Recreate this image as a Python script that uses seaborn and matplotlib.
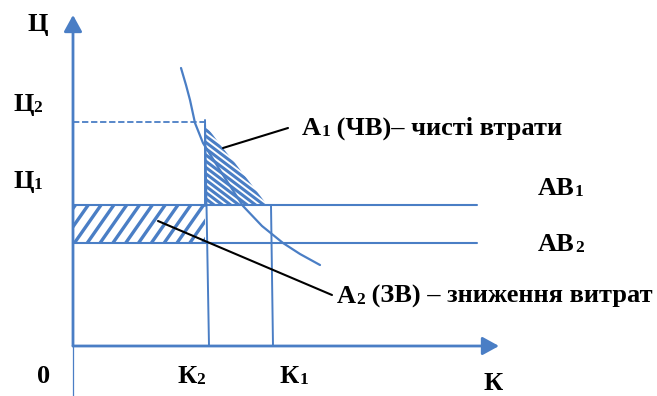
import numpy as np
import pandas as pd
import matplotlib
matplotlib.use("Agg")
import matplotlib.pyplot as plt
import matplotlib.transforms as mtransforms
from matplotlib.patches import Polygon
import seaborn as sns

# ---------------- data (diagram coordinates, y grows downward) ----------------
ORIGIN = (73, 346)
Y_AXIS_TOP = 15
X_AXIS_RIGHT = 499
BOTTOM_EDGE = 396

P_AB1 = 205          # price level AB1 (Ц1)
P_AB2 = 243          # price level AB2
P_2 = 122            # price Ц2
LINE_END_X = 477     # right end of AB lines

K2_top = (205, 120)
K2_bottom = (209, 346)
K1_top = (271, 205)
K1_bottom = (273, 346)

demand_x = [181, 186, 190, 195, 203, 223, 243, 262, 283, 300, 320]
demand_y = [68, 85, 100, 123, 143, 175, 206, 226, 243, 254, 265]

a1_x = [205, 205, 213, 222, 235, 248, 258, 268]
a1_y = [206, 125, 135, 147, 163, 180, 193, 206]

a2_x = [73, 205, 205, 73]
a2_y = [205, 205, 243, 243]

lead1_x = [223, 288]
lead1_y = [148, 128]
lead2_x = [158, 332]
lead2_y = [221, 295]

BLUE = "#4A7EC5"

sns.set_theme(style="white")
plt.rcParams["font.family"] = ["Liberation Serif", "DejaVu Serif"]

fig = plt.figure(figsize=(6.57, 3.96), dpi=100)
ax = fig.add_axes([0, 0, 1, 1])
ax.set_xlim(0, 657)
ax.set_ylim(396, 0)
ax.axis("off")

# ---------------- hatched areas ----------------
def stripes(poly_x, poly_y, angle_deg, spacing, lw, color):
    poly = Polygon(np.column_stack([poly_x, poly_y]), closed=True,
                   facecolor="none", edgecolor="none")
    ax.add_patch(poly)
    xmin, xmax = min(poly_x) - 5, max(poly_x) + 5
    ymin, ymax = min(poly_y) - 5, max(poly_y) + 5
    t = np.deg2rad(angle_deg)
    d = np.array([np.cos(t), np.sin(t)])
    n = np.array([-d[1], d[0]])
    cx, cy = (xmin + xmax) / 2, (ymin + ymax) / 2
    R = np.hypot(xmax - xmin, ymax - ymin)
    k = int(R / spacing) + 2
    for i in range(-k, k + 1):
        p = np.array([cx, cy]) + n * i * spacing
        a = p - d * R
        b = p + d * R
        ln, = ax.plot([a[0], b[0]], [a[1], b[1]], color=color, lw=lw,
                      solid_capstyle="butt")
        ln.set_clip_path(poly)

stripes(a1_x, a1_y, 37, 5.0, 2.2, BLUE)     # "\\" fine hatch
stripes(a2_x, a2_y, -55, 10.5, 2.4, BLUE)   # "/" coarse hatch

# ---------------- lines ----------------
ax.plot([ORIGIN[0], LINE_END_X], [P_AB1, P_AB1], color=BLUE, lw=1.5)
ax.plot([ORIGIN[0], LINE_END_X], [P_AB2, P_AB2], color=BLUE, lw=1.5)
ax.plot([ORIGIN[0], K2_top[0]], [P_2, P_2], color=BLUE, lw=1.3,
        dashes=(3.5, 1.5))
ax.plot([K2_top[0], K2_bottom[0]], [K2_top[1], K2_bottom[1]], color=BLUE, lw=1.4)
ax.plot([K1_top[0], K1_bottom[0]], [K1_top[1], K1_bottom[1]], color=BLUE, lw=1.4)
ax.plot([a1_x[0], a1_x[1]], [a1_y[0], a1_y[1]], color=BLUE, lw=1.4)

sns.lineplot(x=demand_x, y=demand_y, sort=False, ax=ax, color=BLUE, lw=1.6,
             estimator=None)

ax.plot([ORIGIN[0], ORIGIN[0]], [ORIGIN[1], BOTTOM_EDGE], color=BLUE, lw=0.9)
ax.annotate("", xy=(ORIGIN[0], Y_AXIS_TOP), xytext=ORIGIN,
            arrowprops=dict(arrowstyle="-|>,head_length=1.0,head_width=0.55",
                            mutation_scale=10, lw=2.0, color=BLUE,
                            shrinkA=0, shrinkB=0))
ax.annotate("", xy=(X_AXIS_RIGHT, ORIGIN[1]), xytext=ORIGIN,
            arrowprops=dict(arrowstyle="-|>,head_length=1.0,head_width=0.55",
                            mutation_scale=10, lw=2.0, color=BLUE,
                            shrinkA=0, shrinkB=0))

ax.plot(lead1_x, lead1_y, color="black", lw=1.5)
ax.plot(lead2_x, lead2_y, color="black", lw=1.5)

# ---------------- text ----------------
renderer = fig.canvas.get_renderer()
MAIN = 19
SUB = 12.5

def rich(x, y, parts):
    offset = 0.0
    for s, size, dy in parts:
        tr = mtransforms.offset_copy(ax.transData, fig=fig, x=offset, y=dy,
                                     units="points")
        t = ax.text(x, y, s, transform=tr, fontsize=size, fontweight="bold",
                    color="black", ha="left", va="baseline")
        bb = t.get_window_extent(renderer)
        offset += bb.width * 72.0 / fig.dpi

rich(27, 31, [("Ц", MAIN, 0)])
rich(13, 111, [("Ц", MAIN, 0), ("2", SUB, -1)])
rich(13, 188, [("Ц", MAIN, 0), ("1", SUB, -1)])
rich(37, 383, [("0", MAIN, 0)])
rich(177, 383, [("К", MAIN, 0), ("2", SUB, -1)])
rich(280, 383, [("К", MAIN, 0), ("1", SUB, -1)])
rich(483, 390, [("К", MAIN, 0)])
rich(538, 195, [("АВ", MAIN, 0), ("1", SUB, -1)])
rich(538, 251, [("АВ", MAIN, 0), ("2", SUB, -1)])
rich(302, 135, [("А", MAIN, 0), ("1", SUB, -1), (" (ЧВ)– чисті втрати", MAIN, 0)])
rich(337, 303, [("А", MAIN, 0), ("2", SUB, -1), (" (ЗВ) – зниження витрат", MAIN, 0)])

fig.savefig("out.png", dpi=100)
